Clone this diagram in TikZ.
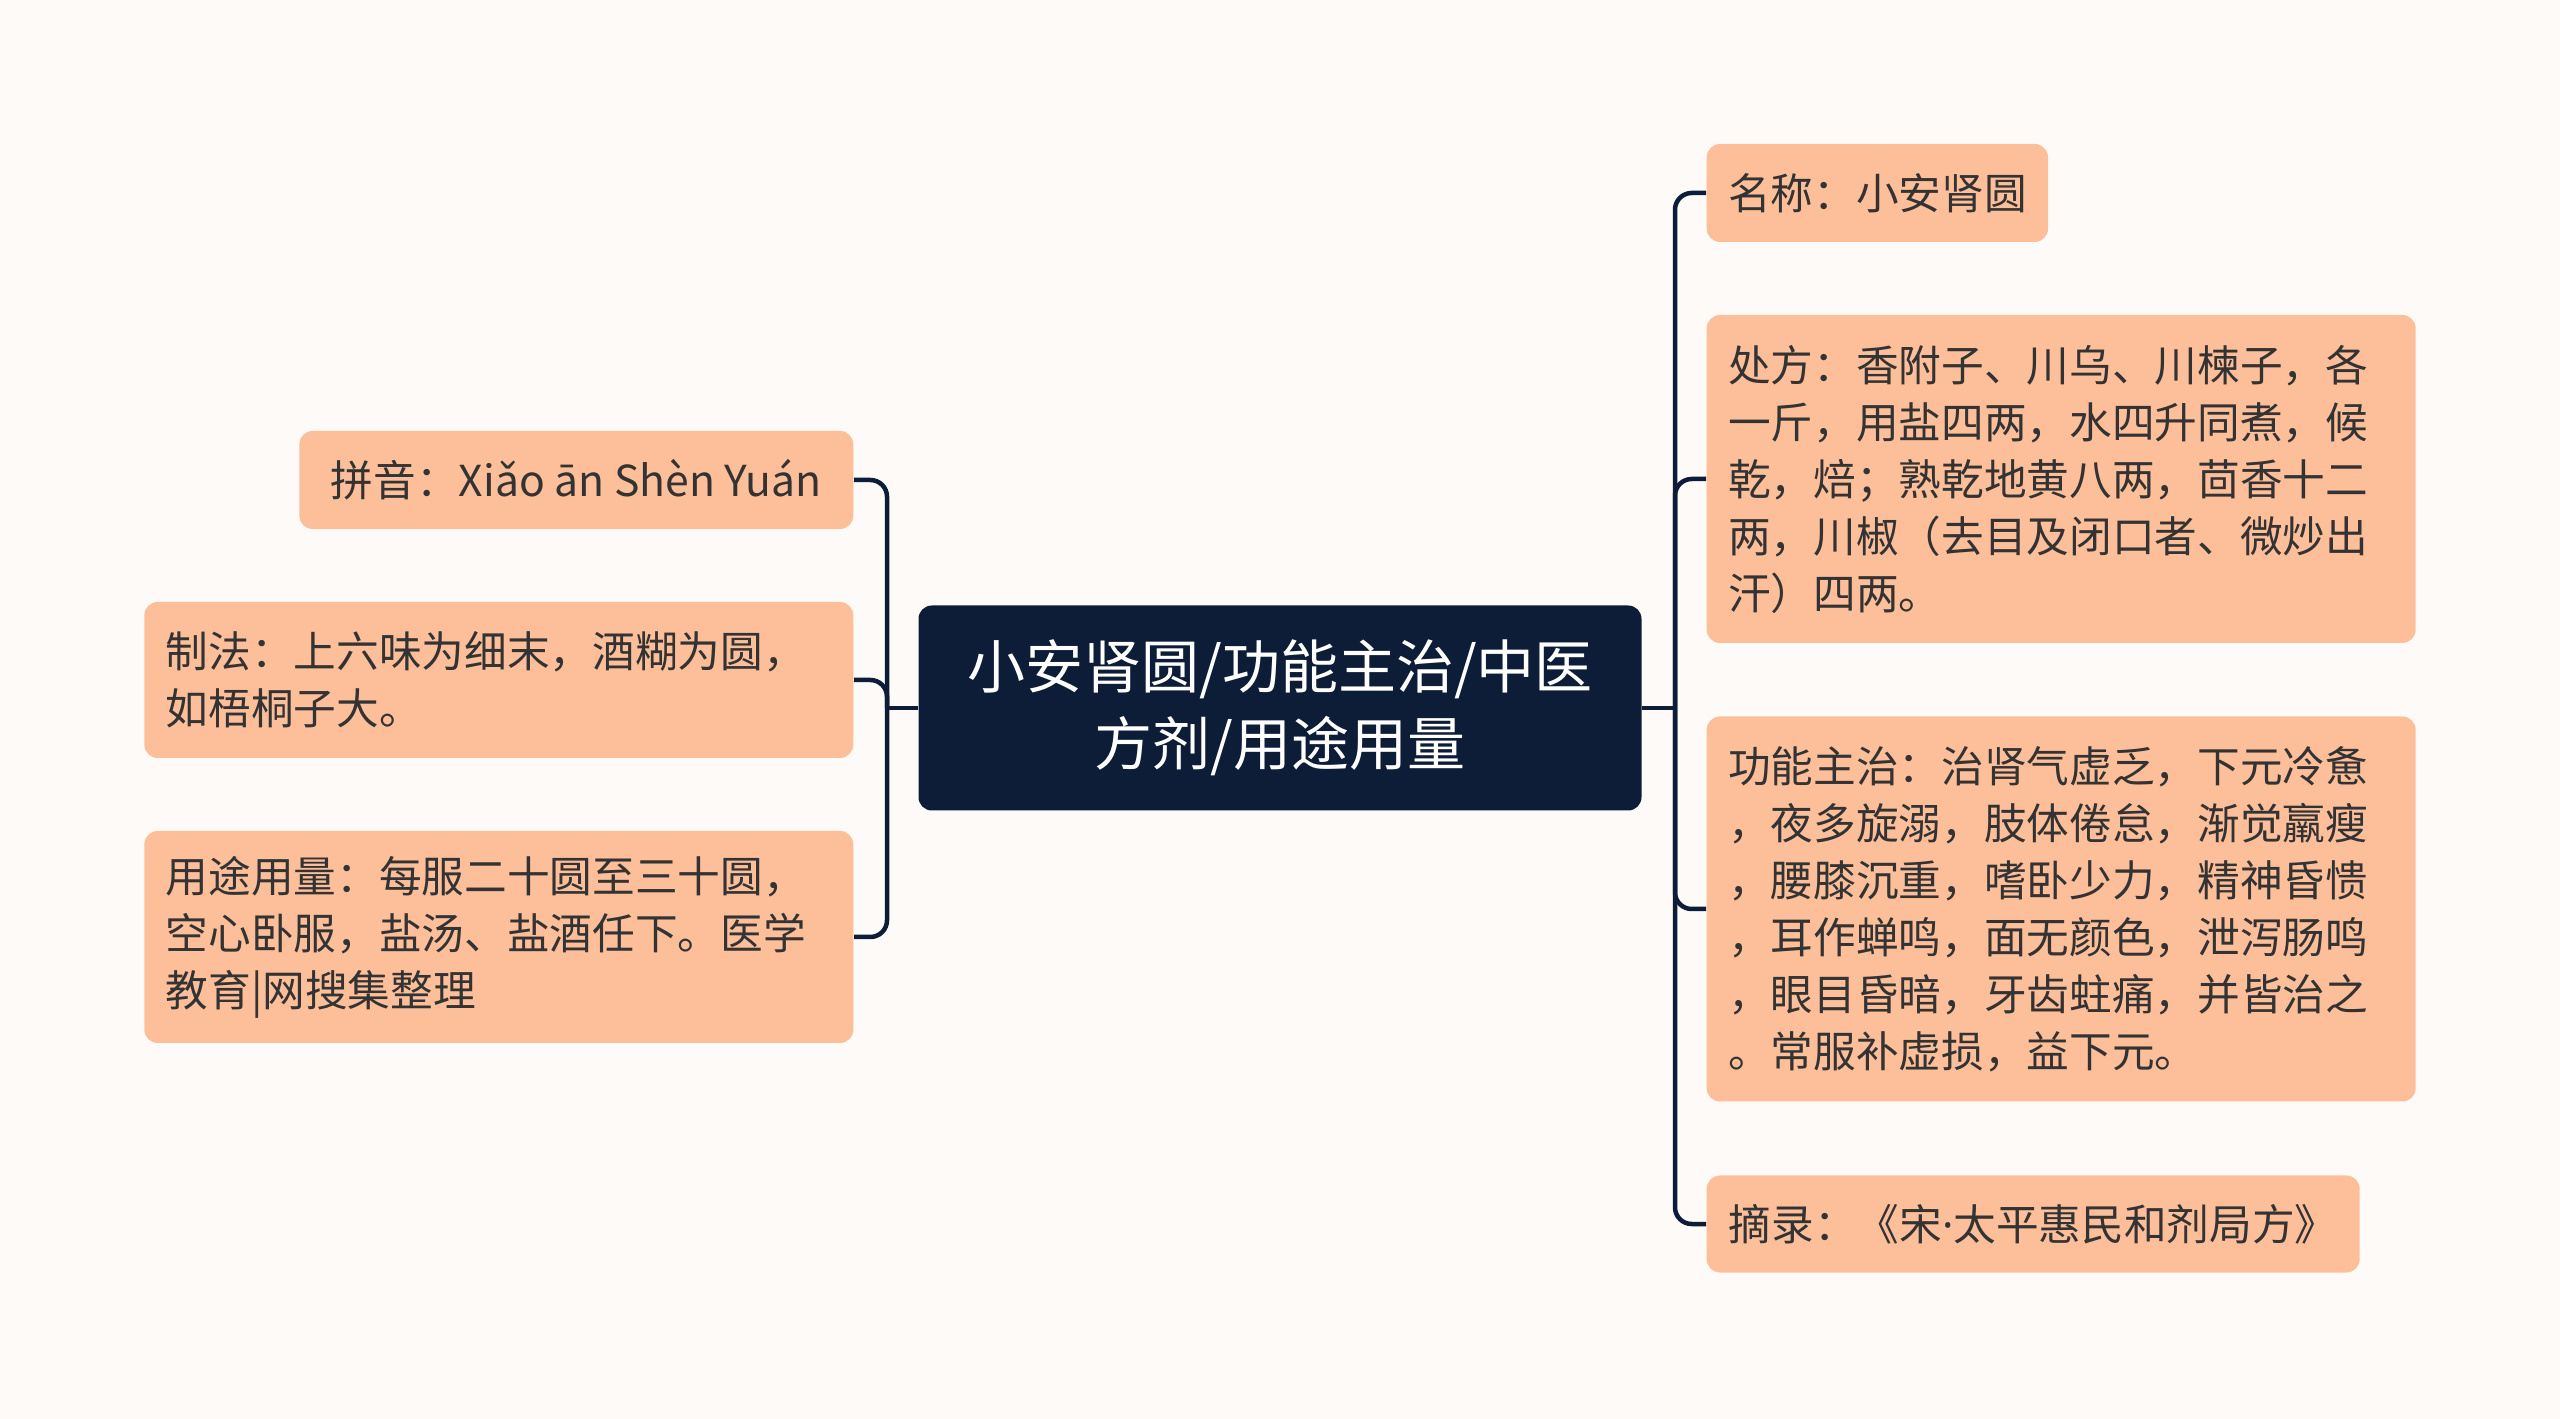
\documentclass[tikz,border=0pt]{standalone}
\usepackage{fontspec}
\setmainfont{Noto Sans CJK SC}
\newfontfamily\latinface{Noto Sans}
\usepackage{tikz}
\definecolor{pagebg}{HTML}{FDFAF8}
\definecolor{leafpeach}{HTML}{FDBF9A}
\definecolor{leaftext}{HTML}{333333}
\definecolor{rootnavy}{HTML}{0E1D37}

\begin{document}
\begin{tikzpicture}[x=0.3pt,y=-0.3pt,
  every node/.style={font=\fontsize{12.8pt}{17.1pt}\selectfont,text=leaftext},
  leaf/.style={fill=leafpeach,rounded corners=4pt,inner xsep=6.4pt,inner ysep=0pt,align=left},
  wide leaf/.style={leaf,text width=199.9pt},
  rootbox/.style={fill=rootnavy,rounded corners=4pt,text=white,align=center,
    font=\fontsize{17.4pt}{23.1pt}\selectfont,minimum width=216.9pt,minimum height=61.5pt},
  branch/.style={draw=rootnavy,line width=1.35pt,rounded corners=5pt}]
\fill[pagebg] (0,0) rectangle (2560,1419);

\node[rootbox] (root) at (1280,708) {小安肾圆/功能主治/中医\\方剂/用途用量};

% left side
\node[leaf,anchor=east,minimum width=166.2pt,minimum height=29.4pt] (pinyin) at (854,480)
  {拼音：Xiǎo ān Shèn Yuán};
\node[wide leaf,anchor=east,minimum height=46.8pt] (zhifa) at (854,680)
  {制法：上六味为细末，酒糊为圆，\\如梧桐子大。};
\node[wide leaf,anchor=east,minimum height=63.6pt] (yongtu) at (854,937)
  {用途用量：每服二十圆至三十圆，\\空心卧服，盐汤、盐酒任下。医学\\教育|网搜集整理};

% right side
\node[leaf,anchor=west,minimum width=102.3pt,minimum height=29.4pt] (mingcheng) at (1706,193)
  {名称：小安肾圆};
\node[wide leaf,anchor=west,minimum height=98.4pt] (chufang) at (1706,479)
  {处方：香附子、川乌、川楝子，各\\一斤，用盐四两，水四升同煮，候\\乾，焙；熟乾地黄八两，茴香十二\\两，川椒（去目及闭口者、微炒出\\汗）四两。};
\node[wide leaf,anchor=west,minimum height=115.5pt] (gongneng) at (1706,909)
  {功能主治：治肾气虚乏，下元冷惫\\，夜多旋溺，肢体倦怠，渐觉羸瘦\\，腰膝沉重，嗜卧少力，精神昏愦\\，耳作蝉鸣，面无颜色，泄泻肠鸣\\，眼目昏暗，牙齿蛀痛，并皆治之\\。常服补虚损，益下元。};
\node[leaf,anchor=west,minimum width=195.9pt,minimum height=29.1pt] (zhailu) at (1706,1224)
  {摘录：《宋{\latinface ·}太平惠民和剂局方》};

\coordinate (ltrunk) at (887,708);
\coordinate (rtrunk) at (1675,708);
\draw[branch] (root.west) -- (ltrunk);
\foreach \n in {pinyin,zhifa,yongtu}
  \draw[branch] (ltrunk) |- (\n.east);
\draw[branch] (root.east) -- (rtrunk);
\foreach \n in {mingcheng,chufang,gongneng,zhailu}
  \draw[branch] (rtrunk) |- (\n.west);
\end{tikzpicture}
\end{document}
